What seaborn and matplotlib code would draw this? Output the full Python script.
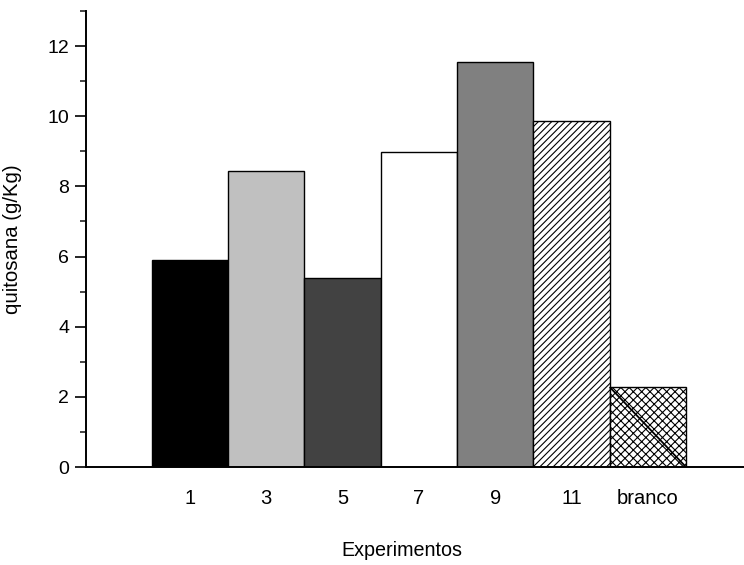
import matplotlib
matplotlib.use("Agg")
import matplotlib.pyplot as plt
from matplotlib.ticker import MultipleLocator
import seaborn as sns
import pandas as pd

# Chitosan yield per experiment
experimentos = ["1", "3", "5", "7", "9", "11", "branco"]
quitosana = [5.9, 8.44, 5.4, 8.98, 11.55, 9.87, 2.28]
cores = ["#000000", "#c0c0c0", "#424242", "#ffffff", "#808080", "#ffffff", "#ffffff"]
hachuras = ["", "", "", "", "", "/////", "xxxx"]

sns.set_theme(style="ticks")
plt.rcParams["font.family"] = ["Liberation Sans", "DejaVu Sans"]
plt.rcParams["hatch.linewidth"] = 0.8

df = pd.DataFrame({"Experimentos": experimentos, "quitosana": quitosana})

fig = plt.figure(figsize=(7.44, 5.65), dpi=100)
ax = fig.add_axes([86 / 744, 1 - 467 / 565, 1 - 86 / 744, (467 - 11) / 565])

sns.barplot(data=df, x="Experimentos", y="quitosana", hue="Experimentos",
            palette=cores, width=1.0, edgecolor="black", linewidth=1.0,
            legend=False, ax=ax, zorder=2)

for patch, h in zip(ax.patches, hachuras):
    patch.set_hatch(h)

# diagonal stroke across the control ("branco") bar
ultimo = ax.patches[len(experimentos) - 1]
x0, y0 = ultimo.get_x(), ultimo.get_y()
ax.plot([x0, x0 + ultimo.get_width()], [y0 + ultimo.get_height(), y0],
        color="black", lw=1.3, zorder=3, solid_capstyle="butt")

ax.set_xlim(-1.36, 7.26)
ax.set_ylim(0, 13)
ax.yaxis.set_major_locator(MultipleLocator(2))
ax.yaxis.set_minor_locator(MultipleLocator(1))

for side in ("top", "right"):
    ax.spines[side].set_visible(False)
for side in ("left", "bottom"):
    ax.spines[side].set_linewidth(1.4)
    ax.spines[side].set_color("black")

ax.tick_params(axis="y", which="major", direction="out", length=8, width=1.2,
               labelsize=14, pad=4, colors="black")
ax.tick_params(axis="y", which="minor", direction="out", length=4.5, width=1.2)
ax.tick_params(axis="x", length=0, labelsize=14.5, pad=16, colors="black")

ax.set_xlabel("Experimentos", fontsize=14.2, color="black")
ax.set_ylabel("quitosana (g/Kg)", fontsize=14.7, color="black")
ax.xaxis.set_label_coords((402 - 86) / (744 - 86), -(541 - 467) / 456)
ax.yaxis.set_label_coords(-(86 - 22) / 658, 0.5)

fig.savefig("out.png", dpi=100, facecolor="white")
